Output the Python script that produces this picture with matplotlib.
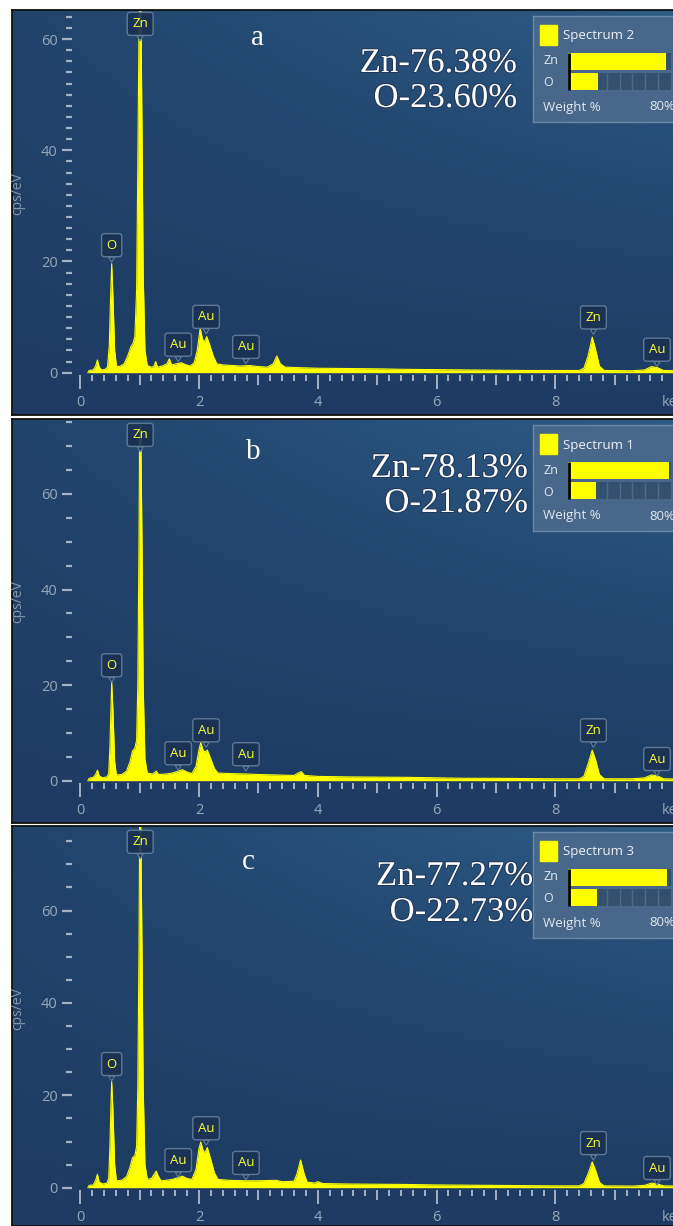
import numpy as np
import matplotlib.pyplot as plt
from matplotlib.ticker import MultipleLocator
from matplotlib.patches import Rectangle
import matplotlib.patheffects as pe

W, H = 673, 1226

# EDS spectra, energy in keV and counts in cps/eV
energy_a = [0.13, 0.15, 0.22, 0.26, 0.29, 0.32, 0.36, 0.42, 0.46, 0.49, 0.51, 0.53, 0.55, 0.58, 0.61,
            0.66, 0.74, 0.80, 0.85, 0.89, 0.92, 0.95, 0.97, 0.99, 1.00, 1.02, 1.04, 1.06, 1.09, 1.13,
            1.19, 1.24, 1.27, 1.30, 1.38, 1.46, 1.50, 1.54, 1.62, 1.70, 1.76, 1.85, 1.92, 1.97, 2.02,
            2.06, 2.09, 2.13, 2.18, 2.24, 2.30, 2.40, 2.55, 2.70, 2.85, 3.00, 3.15, 3.25, 3.31, 3.37,
            3.45, 3.70, 4.00, 4.50, 5.00, 5.50, 6.00, 6.50, 7.00, 7.50, 8.00, 8.40, 8.48, 8.55, 8.62,
            8.68, 8.74, 8.82, 9.30, 9.50, 9.62, 9.72, 9.82, 10.30]
counts_a = [0.0, 0.4, 0.5, 1.2, 2.3, 1.0, 0.5, 0.6, 1.0, 5.0, 13.0, 19.6, 14.0, 4.0, 1.2,
            1.1, 1.6, 3.0, 4.6, 5.3, 6.5, 15.0, 38.0, 62.0, 68.0, 68.0, 44.0, 18.0, 4.0, 1.3,
            1.0, 1.1, 2.0, 1.0, 1.2, 1.6, 2.5, 1.4, 1.6, 1.8, 1.5, 1.2, 1.8, 4.0, 8.0,
            6.0, 5.5, 6.5, 5.0, 3.0, 1.6, 1.4, 1.3, 1.2, 1.3, 1.1, 1.0, 1.6, 3.0, 1.6,
            1.0, 0.9, 0.8, 0.75, 0.7, 0.6, 0.55, 0.5, 0.45, 0.4, 0.4, 0.4, 0.8, 3.0, 6.4,
            4.0, 1.2, 0.4, 0.35, 0.5, 1.1, 0.9, 0.4, 0.3]

energy_b = [0.13, 0.15, 0.22, 0.26, 0.29, 0.32, 0.38, 0.45, 0.48, 0.50, 0.52, 0.53, 0.55, 0.58, 0.61,
            0.70, 0.78, 0.84, 0.88, 0.92, 0.95, 0.97, 0.99, 1.00, 1.02, 1.04, 1.06, 1.09, 1.13,
            1.22, 1.28, 1.32, 1.45, 1.55, 1.65, 1.72, 1.80, 1.88, 1.95, 2.00, 2.03, 2.07, 2.10,
            2.14, 2.20, 2.26, 2.32, 2.50, 2.80, 3.00, 3.30, 3.60, 3.67, 3.72, 3.78, 4.00, 4.50,
            5.00, 5.50, 6.00, 6.50, 7.00, 7.50, 8.00, 8.40, 8.48, 8.55, 8.62, 8.68, 8.74, 8.82,
            9.30, 9.50, 9.62, 9.72, 9.82, 10.30]
counts_b = [0.0, 0.5, 0.7, 1.3, 2.2, 1.0, 0.6, 0.8, 1.5, 7.0, 16.0, 20.7, 15.0, 4.0, 1.2,
            1.3, 2.0, 4.0, 6.2, 6.8, 8.5, 20.0, 50.0, 74.0, 74.0, 50.0, 20.0, 4.5, 1.6,
            1.4, 2.0, 1.3, 1.4, 1.6, 2.0, 2.3, 1.8, 1.5, 3.0, 6.5, 8.0, 6.3, 6.0,
            6.4, 4.5, 2.5, 1.6, 1.5, 1.4, 1.3, 1.2, 1.1, 1.6, 1.9, 1.1, 0.9, 0.8,
            0.75, 0.7, 0.6, 0.5, 0.5, 0.45, 0.4, 0.4, 0.9, 3.5, 6.4, 4.2, 1.3, 0.4,
            0.4, 0.6, 1.2, 1.0, 0.4, 0.3]

energy_c = [0.13, 0.15, 0.22, 0.26, 0.29, 0.32, 0.38, 0.45, 0.48, 0.50, 0.52, 0.53, 0.55, 0.58, 0.61,
            0.70, 0.78, 0.84, 0.88, 0.92, 0.95, 0.97, 0.99, 1.00, 1.02, 1.04, 1.06, 1.09, 1.13,
            1.20, 1.25, 1.28, 1.31, 1.36, 1.45, 1.55, 1.65, 1.72, 1.80, 1.88, 1.95, 2.00, 2.03,
            2.07, 2.10, 2.14, 2.20, 2.26, 2.32, 2.50, 2.80, 3.00, 3.30, 3.40, 3.60, 3.65, 3.71,
            3.77, 3.82, 3.95, 4.00, 4.08, 4.50, 5.00, 5.50, 6.00, 6.50, 7.00, 7.50, 8.00, 8.40,
            8.48, 8.55, 8.62, 8.68, 8.74, 8.82, 9.30, 9.50, 9.62, 9.72, 9.82, 10.30]
counts_c = [0.0, 0.5, 0.6, 1.6, 2.9, 1.2, 0.8, 1.0, 2.0, 9.0, 19.0, 23.0, 17.0, 5.0, 1.5,
            1.6, 2.4, 4.5, 6.5, 6.9, 9.0, 22.0, 52.0, 78.0, 78.0, 52.0, 22.0, 5.0, 1.8,
            2.0, 3.0, 3.6, 2.6, 1.5, 1.6, 1.8, 2.2, 2.5, 2.0, 1.8, 4.0, 8.5, 9.9,
            8.0, 7.6, 8.7, 6.0, 3.2, 1.8, 1.6, 1.5, 1.5, 1.6, 1.3, 1.4, 3.0, 6.0,
            3.0, 1.2, 1.0, 1.3, 0.9, 0.8, 0.75, 0.7, 0.6, 0.55, 0.5, 0.45, 0.4, 0.4,
            0.9, 3.0, 5.6, 3.6, 1.2, 0.4, 0.35, 0.5, 1.0, 0.8, 0.4, 0.3]

# peak markers: element, line energy (keV), marker tip height (cps/eV) per spectrum
peak_names = ['O', 'Zn', 'Au', 'Au', 'Au', 'Zn', 'Au']
peak_kev = [0.53, 1.01, 1.65, 2.12, 2.79, 8.64, 9.71]
tips_a = [19.9, 59.7, 2.0, 7.0, 1.6, 6.9, 1.1]
tips_b = [20.6, 68.8, 2.2, 7.0, 2.0, 7.0, 1.0]
tips_c = [23.1, 71.2, 2.3, 9.2, 1.7, 6.0, 0.6]

panel_letters = ['a', 'b', 'c']
spectrum_names = ['Spectrum 2', 'Spectrum 1', 'Spectrum 3']
zn_weight = [76.38, 78.13, 77.27]
o_weight = [23.60, 21.87, 22.73]

x_ticks = [0, 1, 2, 3, 4, 5, 6, 7, 8, 9, 10]
x_labels = ['0', '', '2', '', '4', '', '6', '', '8', '', 'keV']
y_ticks = [0, 20, 40, 60]
y_minor = [2, 5, 5]

# panel geometry in pixels
frame_top = [10, 419, 826]
frame_bot = [415, 823, 1226]
zero_px = [372.7, 780.7, 1187.7]
px_per_unit = [5.56, 4.78, 4.62]
big_right = [517, 528, 533]
big_base = [(72, 107), (477, 512), (885, 921)]
letter_pos = [(257, 38), (253, 452), (248, 862)]

x0_px, kev_px = 80.2, 59.4

YEL = '#ffff00'
TICK = '#a3b2c3'
TXT = '#97a8bb'
UI = "Open Sans"


def frac(x0, y0, x1, y1):
    return [x0 / W, 1 - y1 / H, (x1 - x0) / W, (y1 - y0) / H]


fig = plt.figure(figsize=(W / 100, H / 100), dpi=100)
fig.patch.set_facecolor('white')

# panel background gradient
gx, gy = np.meshgrid(np.linspace(0, 1, 300), np.linspace(1, 0, 300))
w = np.clip(gy ** 1.3 * (0.25 + 0.75 * gx), 0, 1)
dark = np.array([30, 60, 99]) / 255
light = np.array([44, 92, 135]) / 255
grad = dark + (light - dark) * w[..., None]

spectra = [(energy_a, counts_a, tips_a), (energy_b, counts_b, tips_b), (energy_c, counts_c, tips_c)]

for i, (en, ct, tips) in enumerate(spectra):
    T, B = frame_top[i], frame_bot[i]
    bg = fig.add_axes(frac(12, T, 690, B))
    bg.imshow(grad, aspect='auto', extent=[0, 1, 0, 1])
    bg.set_xticks([])
    bg.set_yticks([])
    for s in bg.spines.values():
        s.set_color('#111111')
        s.set_linewidth(1.3)

    left_px, right_px = 72, 692
    bottom_px = zero_px[i] + 2.5
    top_px = T + 1
    ax = fig.add_axes(frac(left_px, top_px, right_px, bottom_px))
    ax.set_facecolor('none')
    ax.fill_between(en, ct, 0, color=YEL, lw=0, zorder=2)
    ax.plot(en, ct, color=YEL, lw=0.8, zorder=2)
    ax.set_xlim((left_px - x0_px) / kev_px, (right_px - x0_px) / kev_px)
    ax.set_ylim((zero_px[i] - bottom_px) / px_per_unit[i], (zero_px[i] - top_px) / px_per_unit[i])
    for s in ax.spines.values():
        s.set_visible(False)

    ax.set_xticks(x_ticks)
    ax.set_xticklabels(x_labels)
    ax.xaxis.set_minor_locator(MultipleLocator(0.2))
    ax.set_yticks(y_ticks)
    ax.yaxis.set_minor_locator(MultipleLocator(y_minor[i]))
    ax.tick_params(axis='x', which='major', direction='out', length=7.2, width=1.4, color=TICK,
                   labelcolor=TXT, labelsize=10.5, pad=7)
    ax.tick_params(axis='x', which='minor', direction='out', length=4.3, width=1.4, color=TICK)
    ax.tick_params(axis='y', which='major', direction='out', length=7.2, width=1.6, color=TICK,
                   labelcolor=TXT, labelsize=10.5, pad=3)
    ax.tick_params(axis='y', which='minor', direction='out', length=4.3, width=1.6, color=TICK)
    for tk, v in zip(ax.xaxis.get_major_ticks(), x_ticks):
        if v % 2 == 0:
            tk.tick1line.set_markersize(10)
    for lab in ax.get_xticklabels() + ax.get_yticklabels():
        lab.set_fontfamily(UI)

    ax.set_ylabel('cps/eV', color='#8598ae', fontsize=10, fontfamily=UI)
    ax.yaxis.set_label_coords((25 - left_px) / (right_px - left_px), 0.5)

    # element markers
    for name, kev, tip in zip(peak_names, peak_kev, tips):
        ax.annotate(name, xy=(kev, tip), xytext=(0, 7.5), textcoords='offset points',
                    ha='center', va='bottom', color='#ffff33', fontsize=9.5, fontfamily=UI,
                    zorder=5,
                    bbox=dict(boxstyle='round,pad=0.38,rounding_size=0.2', fc='#1a3252',
                              ec='#637f9c', lw=1, alpha=0.92),
                    arrowprops=dict(arrowstyle='wedge,tail_width=0.45', fc='#1a3252',
                                    ec='#637f9c', lw=0.8, shrinkA=0, shrinkB=0))

    # composition text and panel letter
    glow = [pe.withStroke(linewidth=1.5, foreground='#20395a')]
    fig.text(letter_pos[i][0] / W, 1 - letter_pos[i][1] / H, panel_letters[i], color='white',
             fontsize=21, fontfamily='Liberation Serif', ha='center', va='center')
    fig.text(big_right[i] / W, 1 - big_base[i][0] / H, f'Zn-{zn_weight[i]:.2f}%', color='white',
             fontsize=25, fontfamily='Liberation Serif', ha='right', va='baseline',
             path_effects=glow)
    fig.text(big_right[i] / W, 1 - big_base[i][1] / H, f'O-{o_weight[i]:.2f}%', color='white',
             fontsize=25, fontfamily='Liberation Serif', ha='right', va='baseline',
             path_effects=glow)

    # weight % summary box
    lg = fig.add_axes(frac(533, T + 6, 700, T + 112))
    lg.set_xlim(533, 700)
    lg.set_ylim(T + 112, T + 6)
    lg.set_facecolor('#4a6a8c')
    lg.patch.set_alpha(0.93)
    lg.set_xticks([])
    lg.set_yticks([])
    for s in lg.spines.values():
        s.set_color('#6b88a6')
        s.set_linewidth(1)
    lg.add_patch(Rectangle((540, T + 15), 17, 20, color=YEL))
    lg.text(563, T + 26, spectrum_names[i], color='#eef2f6', fontsize=9.5, fontfamily=UI, va='center')
    lg.text(543, T + 51, 'Zn', color='#e2e8ef', fontsize=9, fontfamily=UI, va='center')
    lg.text(543, T + 73, 'O', color='#e2e8ef', fontsize=9, fontfamily=UI, va='center')
    lg.text(543, T + 97, 'Weight %', color='#e2e8ef', fontsize=9.5, fontfamily=UI, va='center')
    lg.text(675, T + 97, '80%', color='#e2e8ef', fontsize=9.5, fontfamily=UI, va='center', ha='right')

    br = fig.add_axes(frac(568, T + 41, 671, T + 82))
    br.set_xlim(0, 80)
    br.set_ylim(-0.5, 1.5)
    br.axis('off')
    rows = [1, 0]
    br.barh(rows, [80, 80], height=0.85, color='#34506f', zorder=1)
    for r in rows:
        br.vlines(range(10, 80, 10), r - 0.42, r + 0.42, color='#4f6b8b', lw=1, zorder=2)
    br.barh(rows, [zn_weight[i], o_weight[i]], height=0.85, color=YEL, zorder=3)
    br.vlines(0.6, -0.42, 1.42, color='black', lw=2, zorder=4)

fig.savefig('out.png', dpi=100)
